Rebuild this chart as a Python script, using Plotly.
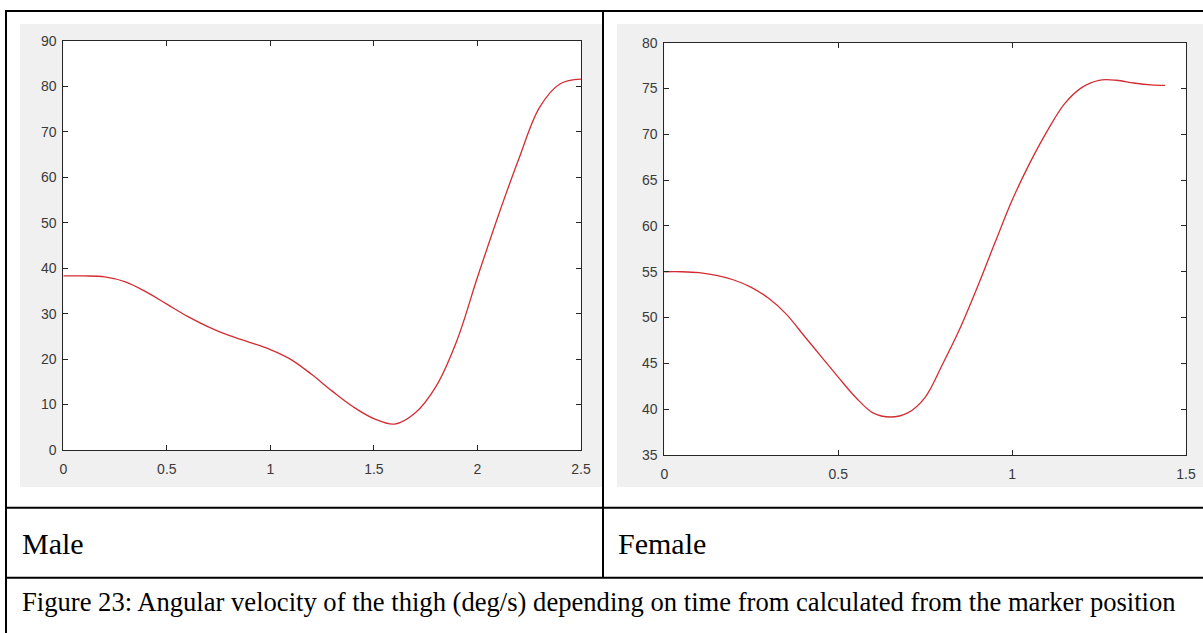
import plotly.graph_objects as go

# angular velocity of the thigh (deg/s)
male_t = [0, 0.1, 0.2, 0.3, 0.4, 0.5, 0.6, 0.7, 0.8, 0.9, 1.0, 1.1, 1.2, 1.3,
          1.4, 1.5, 1.6, 1.7, 1.8, 1.9, 2.0, 2.1, 2.2, 2.3, 2.4, 2.5]
male_v = [38.3, 38.3, 38.1, 37.0, 34.8, 32.1, 29.4, 27.1, 25.2, 23.7, 22.1, 19.9,
          16.6, 12.9, 9.5, 6.9, 5.7, 8.2, 14.0, 24.0, 38.0, 51.5, 64.1, 75.4,
          80.6, 81.6]

female_t = [0, 0.05, 0.1, 0.15, 0.2, 0.25, 0.3, 0.35, 0.4, 0.45, 0.5, 0.55, 0.6,
            0.65, 0.7, 0.75, 0.8, 0.85, 0.9, 0.95, 1.0, 1.05, 1.1, 1.15, 1.2,
            1.25, 1.3, 1.35, 1.4, 1.44]
female_v = [55.0, 55.0, 54.9, 54.6, 54.1, 53.3, 52.1, 50.4, 48.1, 45.8, 43.5, 41.3,
            39.6, 39.15, 39.6, 41.3, 44.9, 48.8, 53.3, 58.1, 62.8, 66.8, 70.3,
            73.3, 75.1, 75.9, 75.9, 75.6, 75.4, 75.35]

row_labels = ["Male", "Female"]
caption = ("Figure 23: Angular velocity of the thigh (deg/s) depending on time "
           "from calculated from the marker position")

W, H = 1203, 633


def fx(px):
    return px / W


def fy(py):
    return 1 - py / H


def rect(x0, y0, x1, y1, color):
    return dict(type="rect", xref="paper", yref="paper", x0=fx(x0), x1=fx(x1),
                y0=fy(y1), y1=fy(y0), fillcolor=color, line_width=0, layer="below")


def hline(y, x0, x1):
    return dict(type="line", xref="paper", yref="paper", x0=fx(x0), x1=fx(x1),
                y0=fy(y), y1=fy(y), line=dict(color="black", width=2))


def vline(x, y0, y1):
    return dict(type="line", xref="paper", yref="paper", x0=fx(x), x1=fx(x),
                y0=fy(y0), y1=fy(y1), line=dict(color="black", width=2))


tick_font = dict(family="Arial, Liberation Sans, sans-serif", size=14, color="#3a3a3a")
axis_style = dict(showline=True, linecolor="#262626", linewidth=1, mirror="ticks",
                  ticks="inside", ticklen=5, tickcolor="#262626", tickwidth=1,
                  showgrid=False, zeroline=False, tickfont=tick_font,
                  fixedrange=True, automargin=False)

line_style = dict(color="rgb(210,45,50)", width=1.3)

fig = go.Figure()
fig.add_trace(go.Scatter(x=male_t, y=male_v, mode="lines", line=line_style,
                         line_shape="spline", xaxis="x", yaxis="y", showlegend=False))
fig.add_trace(go.Scatter(x=female_t, y=female_v, mode="lines", line=line_style,
                         line_shape="spline", xaxis="x2", yaxis="y2", showlegend=False))

fig.update_layout(
    width=W, height=H, autosize=False,
    margin=dict(l=0, r=0, t=0, b=0, pad=0, autoexpand=False),
    paper_bgcolor="white", plot_bgcolor="white", showlegend=False,
    xaxis=dict(domain=[fx(63.3), fx(581)], range=[0, 2.5], dtick=0.5,
               anchor="y", ticklabelstandoff=6, **axis_style),
    yaxis=dict(domain=[fy(450), fy(41)], range=[0, 90], dtick=10,
               anchor="x", ticklabelstandoff=3, **axis_style),
    xaxis2=dict(domain=[fx(664.3), fx(1186)], range=[0, 1.5], dtick=0.5,
                anchor="y2", ticklabelstandoff=6, **axis_style),
    yaxis2=dict(domain=[fy(455), fy(42.7)], range=[35, 80], dtick=5,
                anchor="x2", ticklabelstandoff=3, **axis_style),
    shapes=[
        rect(20, 24, 602, 487, "#f0f0f0"),
        rect(617, 24, 1203, 487, "#f0f0f0"),
        rect(63.3, 41, 581, 450, "white"),
        rect(664.3, 42.7, 1186, 455, "white"),
        hline(11, 5, 1203),
        hline(507.7, 5, 1203),
        hline(577.7, 5, 1203),
        vline(6, 10, 633),
        vline(603, 10, 578),
    ],
)

serif = dict(family="Times New Roman, Liberation Serif, serif", color="black")
fig.add_annotation(x=fx(20), y=fy(543), xref="paper", yref="paper", text=row_labels[0],
                   showarrow=False, xanchor="left", yanchor="middle",
                   font=dict(size=30, **serif))
fig.add_annotation(x=fx(616), y=fy(543), xref="paper", yref="paper", text=row_labels[1],
                   showarrow=False, xanchor="left", yanchor="middle",
                   font=dict(size=30, **serif))
fig.add_annotation(x=fx(20), y=fy(602), xref="paper", yref="paper", text=caption,
                   showarrow=False, xanchor="left", yanchor="middle",
                   font=dict(size=26.6, **serif))

# drop the default page margin so the figure sits at the window's corner
fig.write_html("out.html", config={"displayModeBar": False},
               post_script="document.body.style.margin = '0';")
